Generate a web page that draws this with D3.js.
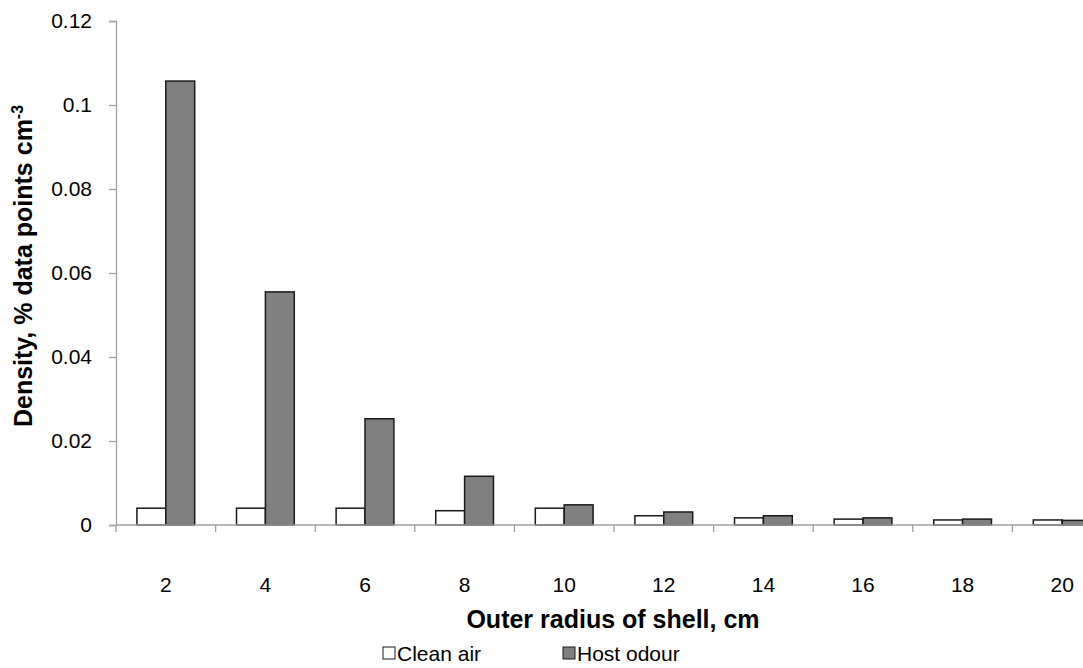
<!DOCTYPE html>
<html><head><meta charset="utf-8">
<script src="https://cdn.jsdelivr.net/npm/d3@7"></script>
<style>body{margin:0;background:#fff;overflow:hidden}svg{display:block;font-family:"Liberation Sans",Arial,sans-serif}</style>
</head><body><svg id="c" width="1083" height="668"></svg>
<script>
const categories = ["2","4","6","8","10","12","14","16","18","20"];
const cleanAir = [0.0040,0.0040,0.0040,0.0034,0.0040,0.0022,0.0017,0.0014,0.0012,0.0012];
const hostOdour = [0.1057,0.0555,0.0253,0.0116,0.0048,0.0031,0.0022,0.0017,0.0014,0.0011];
const yTicks = [0,0.02,0.04,0.06,0.08,0.1,0.12];
const seriesNames = ["Clean air","Host odour"];
const seriesColors = ["#ffffff","#808080"];

const svg = d3.select("#c");
const x = d3.scaleBand().domain(categories).range([116,1112]).paddingInner(0).paddingOuter(0);
const y = d3.scaleLinear().domain([0,0.12]).range([525,21]);
const bw = x.bandwidth()*0.29;

// y axis
const gy = svg.append("g").attr("transform","translate(116,0)")
  .call(d3.axisLeft(y).tickValues(yTicks).tickSize(7).tickPadding(17).tickFormat(d=>d===0?"0":String(+d.toFixed(2))));
gy.select(".domain").attr("stroke","#a0a0a0").attr("stroke-width",1.3);
gy.selectAll(".tick line").attr("stroke","#a0a0a0").attr("stroke-width",1.3);
gy.selectAll("text").attr("font-size",21).attr("fill","#000").attr("font-family","Liberation Sans, Arial, sans-serif");

// bars
const data = categories.map((c,i)=>({c, v:[cleanAir[i],hostOdour[i]]}));
const g = svg.append("g");
data.forEach(d=>{
  d.v.forEach((v,k)=>{
    const x0 = x(d.c)+x.bandwidth()/2 - bw + k*bw;
    g.append("rect").attr("x",x0).attr("y",y(v)).attr("width",bw).attr("height",y(0)-y(v))
      .attr("fill",seriesColors[k]).attr("stroke","#1a1a1a").attr("stroke-width",1.5);
  });
});

// x axis
const xAxisG = svg.append("g").attr("transform","translate(0,525)");
xAxisG.append("line").attr("x1",116).attr("x2",1112).attr("y1",0).attr("y2",0).attr("stroke","#a0a0a0").attr("stroke-width",1.5);
categories.forEach(c=>{
  xAxisG.append("line").attr("x1",x(c)).attr("x2",x(c)).attr("y1",0).attr("y2",7).attr("stroke","#a0a0a0").attr("stroke-width",1.3);
  xAxisG.append("text").attr("x",x(c)+x.bandwidth()/2).attr("y",67).attr("text-anchor","middle")
    .attr("font-size",21).text(c);
});

// titles
svg.append("text").attr("x",613).attr("y",628).attr("text-anchor","middle").attr("font-size",25).attr("font-weight","bold").text("Outer radius of shell, cm");
const yt = svg.append("text").attr("transform","translate(32,266) rotate(-90)").attr("text-anchor","middle").attr("font-size",25).attr("font-weight","bold");
yt.append("tspan").text("Density, % data points cm");
yt.append("tspan").attr("dy",-9).attr("font-size",16).text("-3");

// legend
const legX = [383, 563];
seriesNames.forEach((n,k)=>{
  svg.append("rect").attr("x",legX[k]).attr("y",647).attr("width",12).attr("height",12)
    .attr("fill",seriesColors[k]).attr("stroke","#1a1a1a").attr("stroke-width",1);
  svg.append("text").attr("x",legX[k]+14).attr("y",661).attr("font-size",21).text(n);
});
</script></body></html>
